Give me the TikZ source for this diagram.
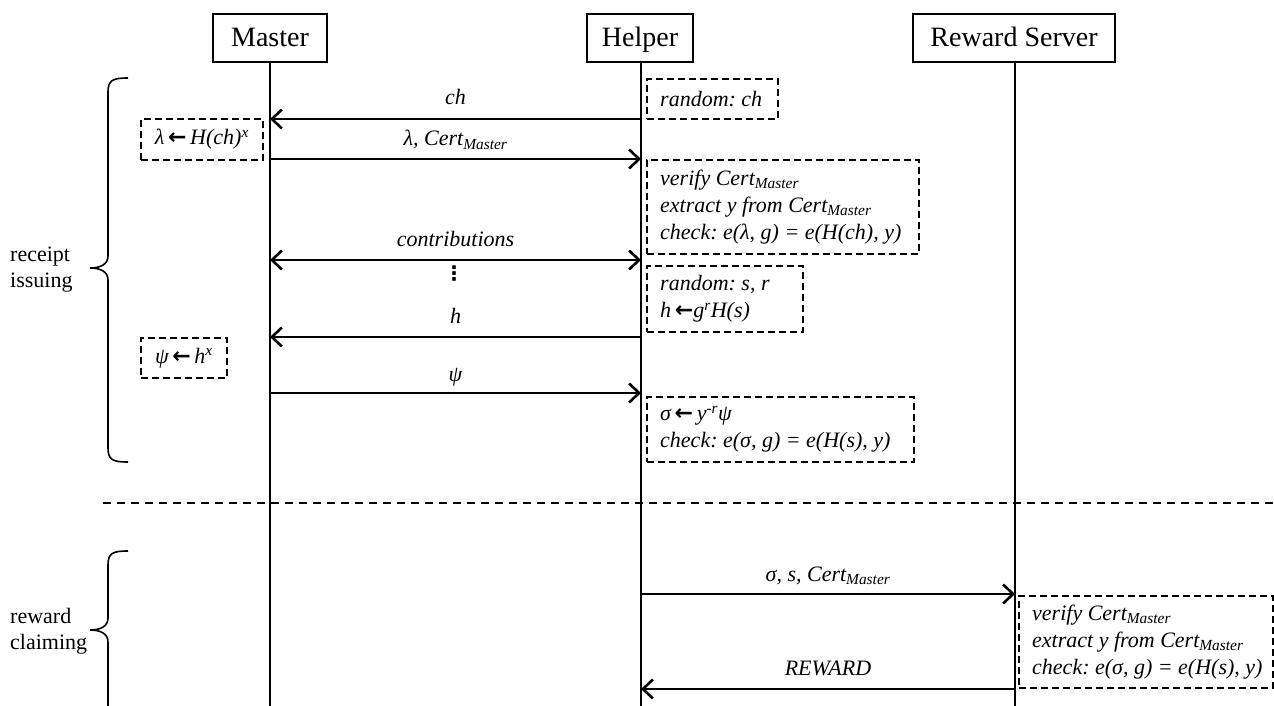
\documentclass[tikz,border=0pt]{standalone}
\usepackage{fontspec}
\setmainfont{Liberation Serif}
\newfontfamily\symfont{DejaVu Sans}
\usetikzlibrary{arrows.meta}
\newcommand\larr{{\symfont\bfseries ←}}
\newcommand\sbs[1]{\textsubscript{#1}}
\newcommand\sps[1]{\textsuperscript{#1}}
\frenchspacing
\begin{document}
\begin{tikzpicture}[x=1pt,y=-1pt,
 actor/.style={draw, line width=1.6pt, minimum height=48pt, font=\fontsize{28}{32}\selectfont, inner sep=0pt, text height=22pt, text depth=4pt},
 life/.style={line width=1.5pt},
 msg/.style={line width=2.9pt, -{Straight Barb[length=10pt,width=19pt,line width=2.6pt]}},
 dmsg/.style={line width=2.9pt, {Straight Barb[length=10pt,width=19pt,line width=2.6pt]}-{Straight Barb[length=10pt,width=19pt,line width=2.6pt]}},
 lbl/.style={font=\fontsize{22}{27}\selectfont\itshape, anchor=base, inner sep=0pt},
 note/.style={draw, dash pattern=on 7pt off 4pt, line width=1.8pt, anchor=north west, inner sep=0pt},
 notetext/.style={anchor=west, font=\fontsize{22}{27}\selectfont\itshape, align=left, inner sep=0pt},
 phase/.style={font=\fontsize{22}{26}\selectfont, align=left, anchor=west, inner sep=0pt},
 bracestyle/.style={line width=1.6pt},
 sep/.style={line width=1.6pt, dash pattern=on 8pt off 6pt}
]
\useasboundingbox (0,0) rectangle (1274,706);
\clip (0,0) rectangle (1274,706);

% actors
\node[actor, minimum width=114pt] (M) at (270,38) {Master};
\node[actor, minimum width=106pt] (H) at (640,38) {Helper};
\node[actor, minimum width=202pt] (R) at (1014,38) {Reward Server};
\coordinate (Mend) at (270,706);
\coordinate (Hend) at (641,706);
\coordinate (Rend) at (1015,706);
\draw[life] (M.south) -- (Mend);
\draw[life] (H.south -| Hend) -- (Hend);
\draw[life] (R.south -| Rend) -- (Rend);

% message endpoints
\foreach \n/\y in {1/119,2/159,3/260,4/337,5/393}{
  \coordinate (m\n) at (270,\y);
  \coordinate (h\n) at (641,\y);
}
\coordinate (h6) at (641,594);
\coordinate (r6) at (1015,594);
\coordinate (h7) at (641,689);
\coordinate (r7) at (1015,689);

% messages
\draw[msg] (h1) -- node[lbl, midway, yshift=14pt] {ch} (m1);
\draw[msg] (m2) -- node[lbl, midway, yshift=13pt] {λ, Cert\sbs{Master}} (h2);
\draw[dmsg] (m3) -- node[lbl, midway, yshift=14pt] {contributions} (h3);
\node[font=\symfont\bfseries\fontsize{20}{24}\selectfont, inner sep=0pt] (dots) at (454,274) {⋮};
\draw[msg] (h4) -- node[lbl, midway, yshift=14pt] {h} (m4);
\draw[msg] (m5) -- node[lbl, midway, yshift=12pt] {ψ} (h5);
\draw[msg] (h6) -- node[lbl, midway, yshift=13pt] {σ, s, Cert\sbs{Master}} (r6);
\draw[msg] (r7) -- node[lbl, midway, yshift=14pt] {REWARD} (h7);

% notes
\node[note, minimum width=131pt, minimum height=40pt] (n1) at (646,78) {};
\node[notetext] (t1) at ([xshift=14pt]n1.west) {random: ch};
\node[note, minimum width=122pt, minimum height=41pt] (n2) at (140,118) {};
\node[notetext, anchor=center] (t2) at (n2.center) {λ\,\larr\,H(ch)\sps{x}};
\node[note, minimum width=272pt, minimum height=94pt] (n3) at (646,159) {};
\node[notetext] (t3) at ([xshift=14pt]n3.west) {verify Cert\sbs{Master}\\extract y from Cert\sbs{Master}\\check: e(λ, g) = e(H(ch), y)};
\node[note, minimum width=156pt, minimum height=66pt] (n4) at (646,265) {};
\node[notetext] (t4) at ([xshift=14pt]n4.west) {random: s, r\\h\,\larr g\sps{r}H(s)};
\node[note, minimum width=86pt, minimum height=40pt] (n5) at (140,337) {};
\node[notetext, anchor=center] (t5) at (n5.center) {ψ\,\larr\,h\sps{x}};
\node[note, minimum width=267pt, minimum height=65pt] (n6) at (646,396) {};
\node[notetext] (t6) at ([xshift=14pt]n6.west) {σ\,\larr\,y\sps{-r}ψ\\check: e(σ, g) = e(H(s), y)};
\node[note, minimum width=254pt, minimum height=92pt] (n7) at (1018,595) {};
\node[notetext] (t7) at ([xshift=14pt]n7.west) {verify Cert\sbs{Master}\\extract y from Cert\sbs{Master}\\check: e(σ, g) = e(H(s), y)};

% separator
\coordinate (sepL) at (103,503);
\coordinate (sepR) at (1274,503);
\draw[sep] (sepL) -- (sepR);

% braces
\draw[bracestyle] (128,78) .. controls (113,78) and (108,80) .. (108,92) -- (108,256)
  .. controls (108,264) and (101,268) .. (90,268)
  .. controls (101,268) and (108,272) .. (108,280) -- (108,448)
  .. controls (108,460) and (113,462) .. (128,462);
\draw[bracestyle] (128,551) .. controls (113,551) and (108,553) .. (108,565) -- (108,618)
  .. controls (108,626) and (101,630) .. (90,630)
  .. controls (101,630) and (108,634) .. (108,642) -- (108,710);
\node[phase] (p1) at (10,270) {receipt\\issuing};
\node[phase] (p2) at (10,631) {reward\\claiming};
\end{tikzpicture}
\end{document}
